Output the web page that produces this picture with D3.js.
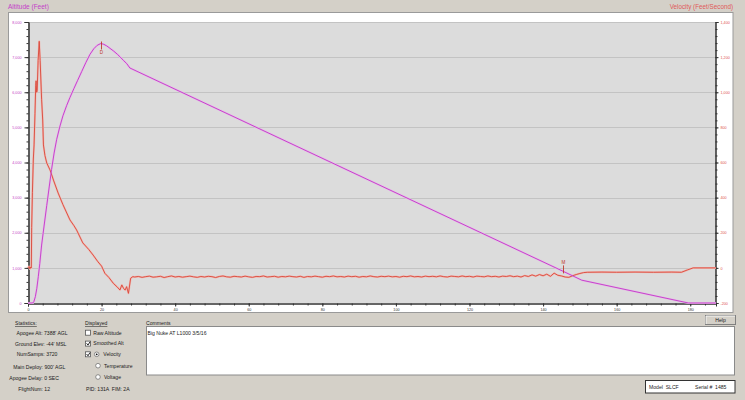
<!DOCTYPE html>
<html><head><meta charset="utf-8">
<script src="https://cdn.jsdelivr.net/npm/d3@7"></script>
<style>html,body{margin:0;padding:0;background:#d4d0c8;overflow:hidden}svg{display:block;font-family:"Liberation Sans",Arial,sans-serif}</style>
</head><body><svg id="c" width="745" height="400"></svg>
<script>
// ---------------- DATA ----------------
const altTime = [0, 1.3, 1.6, 2.0, 2.4, 2.8, 3.2, 3.7, 4.4, 5.1, 5.8, 6.4, 7.1, 7.8, 8.7, 9.5, 10.5, 11.4, 12.5, 13.5, 14.6, 15.7, 16.85, 17.9, 18.8, 19.8, 20.6, 21.4, 22.3, 23.3, 24.3, 25.0, 26.0, 26.8, 27.7, 145.5, 150.5, 179.5, 187];
const altFeet = [0, 0, 40, 180, 420, 750, 1120, 1650, 2220, 2780, 3330, 3800, 4270, 4660, 5040, 5330, 5620, 5850, 6110, 6340, 6590, 6840, 7080, 7240, 7335, 7388, 7365, 7320, 7250, 7170, 7080, 7010, 6900, 6820, 6690, 900, 650, 0, 0];

const velTimeBoost = [0, 0.3, 0.5, 0.7, 0.9, 1.0, 1.2, 1.45, 1.65, 1.9, 2.1, 2.2, 2.35, 2.5, 2.75, 3.05, 3.3, 3.7, 4.0, 4.2, 4.6, 5.1, 6.0, 7.0, 8.2, 9.5, 11.4, 12.5, 13.2, 14.9, 16.5, 17.7, 19.0, 20.0, 20.9, 22.0, 23.2, 24.3, 25.0, 25.5, 26.0, 26.4, 26.8, 27.3, 27.9, 28.5];
const velFpsBoost  = [0, 8, -6, 5, 0, 230, 430, 620, 700, 880, 1040, 1065, 1000, 1010, 1180, 1290, 1180, 960, 842, 700, 640, 597, 557, 495, 426, 360, 273, 240, 216, 142, 105, 73, 35, 10, -31, -55, -88, -110, -126, -97, -118, -126, -107, -145, -59, -50];
// coasting under drogue, one reading per second from t = 29 s to t = 152 s
const velCruiseStart = 29;
const velCruise = [-52, -49, -54, -50, -47, -53, -51, -48, -55, -50, -46, -52, -49, -53, -50, -47, -51, -54, -49, -52,
  -48, -50, -55, -49, -46, -51, -53, -48, -50, -52, -47, -51, -54, -49, -50, -46, -52, -50, -48, -53,
  -49, -51, -47, -50, -52, -48, -54, -49, -51, -47, -50, -53, -48, -50, -46, -51, -49, -52, -47, -50,
  -48, -53, -49, -51, -46, -50, -52, -48, -50, -47, -51, -49, -53, -48, -50, -46, -51, -49, -52, -47,
  -50, -48, -51, -46, -50, -52, -47, -49, -51, -46, -50, -48, -52, -47, -49, -51, -46, -50, -48, -52,
  -47, -49, -45, -50, -47, -52, -44, -49, -40, -47, -38, -45, -36, -48, -30, -42, -46, -52, -54, -45,
  -38, -32, -27, -25];
const velTimeLand = [156, 160, 165, 170, 175, 177.6, 179.2, 180.8, 187];
const velFpsLand  = [-24, -25, -24, -25, -24, -25, -12, 0, 0];

const events = [{label: "D", t: 19.8}, {label: "M", t: 145.5}];

const altTicks = [0, 1000, 2000, 3000, 4000, 5000, 6000, 7000, 8000];
const velTicks = [-200, 0, 200, 400, 600, 800, 1000, 1200, 1400];
const timeTicks = [0, 20, 40, 60, 80, 100, 120, 140, 160, 180];

const statsLines = ["Apogee Alt: 7388' AGL", "Ground Elev: -44' MSL", "NumSamps: 3720", "Main Deploy: 900' AGL", "Apogee Delay: 0 SEC", "FlightNum: 12"];
const displayedItems = [
  {label: "Raw Altitude", check: false, radio: null},
  {label: "Smoothed Alt", check: true, radio: null},
  {label: "Velocity", check: true, radio: true},
  {label: "Temperature", check: null, radio: false},
  {label: "Voltage", check: null, radio: false}];
const commentText = "Big Nuke AT L1000 3/5/16";

// ---------------- DRAW ----------------
const svg = d3.select("#c");
const MAG = "#c43fc8", RED = "#d9473a";
svg.append("rect").attr("width", 745).attr("height", 400).attr("fill", "#d4d0c8");
svg.append("rect").attr("x", 8.5).attr("y", 12.5).attr("width", 724.5).attr("height", 300).attr("fill", "#fff").attr("stroke", "#9a9a9a");

const x = d3.scaleLinear().domain([0, 187]).range([28, 716]);
const yA = d3.scaleLinear().domain([0, 8000]).range([303, 22]);
const yV = d3.scaleLinear().domain([-200, 1400]).range([303, 22]);

svg.append("rect").attr("x", 28).attr("y", 22).attr("width", 688).attr("height", 281).attr("fill", "#dcdcdc");
svg.append("g").selectAll("line").data(altTicks.filter(d => d > 0)).join("line")
  .attr("x1", 28).attr("x2", 716)
  .attr("y1", d => Math.round(yA(d)) + 0.5).attr("y2", d => Math.round(yA(d)) + 0.5)
  .attr("stroke", "#c3c3c3");

function styleAxis(g, col) {
  g.select(".domain").attr("stroke", "#333");
  g.selectAll(".tick line").attr("stroke", "#333");
  g.selectAll("text").attr("fill", col).attr("font-size", 3.7).attr("font-family", "Liberation Sans, Arial, sans-serif");
}
const fmt = d => d3.format(",")(d).replace("\u2212", "-");
svg.append("g").attr("transform", "translate(28.5,0)")
  .call(d3.axisLeft(yA).tickValues(d3.range(0, 8001, 200)).tickSize(2).tickFormat(""))
  .call(g => styleAxis(g, MAG));
svg.append("g").attr("transform", "translate(28.5,0)")
  .call(d3.axisLeft(yA).tickValues(altTicks).tickSize(4).tickPadding(3).tickFormat(fmt))
  .call(g => styleAxis(g, MAG));
svg.append("g").attr("transform", "translate(715.5,0)")
  .call(d3.axisRight(yV).tickValues(d3.range(-200, 1401, 40)).tickSize(2).tickFormat(""))
  .call(g => styleAxis(g, RED));
svg.append("g").attr("transform", "translate(715.5,0)")
  .call(d3.axisRight(yV).tickValues(velTicks).tickSize(3).tickPadding(2).tickFormat(fmt))
  .call(g => styleAxis(g, "#e05050"));
svg.append("g").attr("transform", "translate(0,303.5)")
  .call(d3.axisBottom(x).tickValues(d3.range(0, 187, 4)).tickSize(2).tickFormat(""))
  .call(g => styleAxis(g, "#333"));
svg.append("g").attr("transform", "translate(0,303.5)")
  .call(d3.axisBottom(x).tickValues(timeTicks).tickSize(3).tickPadding(2).tickFormat(fmt))
  .call(g => styleAxis(g, "#333"));

svg.append("text").attr("x", 8).attr("y", 8.6).attr("font-size", 6.5).attr("fill", MAG).text("Altitude (Feet)");
svg.append("text").attr("x", 733).attr("y", 8.6).attr("text-anchor", "end").attr("font-size", 6.3).attr("fill", "#e05a5a").text("Velocity (Feet/Second)");

const altData = altTime.map((t, i) => [t, altFeet[i]]);
const velData = velTimeBoost.map((t, i) => [t, velFpsBoost[i]])
  .concat(velCruise.map((v, i) => [velCruiseStart + i, v]))
  .concat(velTimeLand.map((t, i) => [t, velFpsLand[i]]));
const lineA = d3.line().x(d => x(d[0])).y(d => yA(d[1]));
const lineV = d3.line().x(d => x(d[0])).y(d => yV(d[1]));
const plot = svg.append("g");
plot.append("path").datum(velData).attr("d", lineV).attr("fill", "none").attr("stroke", "#efb9b3").attr("stroke-width", 2.0).attr("stroke-linejoin", "round");
plot.append("path").datum(altData).attr("d", lineA).attr("fill", "none").attr("stroke", "#e6bce8").attr("stroke-width", 2.1).attr("stroke-linejoin", "round");
plot.append("path").datum(velData).attr("d", lineV).attr("fill", "none").attr("stroke", RED).attr("stroke-width", 0.9).attr("stroke-linejoin", "round");
plot.append("path").datum(altData).attr("d", lineA).attr("fill", "none").attr("stroke", MAG).attr("stroke-width", 0.95).attr("stroke-linejoin", "round");

const altAt = t => d3.scaleLinear().domain(altTime).range(altFeet)(t);
events.forEach((e, i) => {
  const px = Math.round(x(e.t)) + 0.5, py = yA(altAt(e.t));
  const dir = i === 0 ? 1 : -1;
  svg.append("line").attr("x1", px).attr("x2", px).attr("y1", py - 2 * dir).attr("y2", py + 6 * dir).attr("stroke", "#c0392b").attr("stroke-width", 0.9);
  svg.append("text").attr("x", px).attr("y", dir > 0 ? py + 11 : py - 7).attr("text-anchor", "middle")
    .attr("font-size", 4.6).attr("fill", "#c0392b").text(e.label);
});

// ---------------- LOWER PANEL ----------------
const T = "#1a1a1a", FS = 5.1;
const stx = [16.5, 15, 16.7, 13.3, 9.3, 18.3];
const sty = [334.5, 345.8, 356.1, 368.5, 380.1, 391.1];
svg.append("text").attr("x", 15).attr("y", 325).attr("font-size", FS).attr("fill", T).attr("text-decoration", "underline").text("Statistics:");
svg.append("g").selectAll("text").data(statsLines).join("text")
  .attr("x", (d, i) => stx[i]).attr("y", (d, i) => sty[i]).attr("font-size", FS).attr("fill", T).text(d => d);

svg.append("text").attr("x", 85).attr("y", 325).attr("font-size", FS).attr("fill", T).attr("text-decoration", "underline").text("Displayed");
const rowY = [332.7, 343.6, 354.3, 365.7, 377];
displayedItems.forEach((d, i) => {
  const cy = rowY[i];
  if (d.check !== null) {
    svg.append("rect").attr("x", 85.5).attr("y", cy - 2.5).attr("width", 5).attr("height", 5).attr("fill", "#fff").attr("stroke", "#555").attr("stroke-width", 0.8);
    if (d.check) svg.append("path").attr("d", `M86.6,${cy - 0.3} L88,${cy + 1.5} L90,${cy - 1.8}`).attr("fill", "none").attr("stroke", "#111").attr("stroke-width", 0.9);
  }
  let tx = 93.3;
  if (d.radio !== null) {
    const rx = i === 2 ? 96.7 : 98;
    svg.append("circle").attr("cx", rx).attr("cy", cy).attr("r", 2.3).attr("fill", "#fff").attr("stroke", "#666").attr("stroke-width", 0.7);
    if (d.radio) svg.append("circle").attr("cx", rx).attr("cy", cy).attr("r", 0.9).attr("fill", "#111");
    tx = i === 2 ? 103.3 : 104;
  }
  svg.append("text").attr("x", tx).attr("y", cy + 1.8).attr("font-size", FS).attr("fill", T).text(d.label);
});
svg.append("text").attr("x", 86).attr("y", 391.1).attr("font-size", FS).attr("fill", T).attr("xml:space", "preserve").text("PID: 131A  FIM: 2A");

svg.append("text").attr("x", 146).attr("y", 324.6).attr("font-size", FS).attr("fill", T).text("Comments");
svg.append("rect").attr("x", 146.5).attr("y", 326.5).attr("width", 588).attr("height", 48.5).attr("fill", "#fff").attr("stroke", "#8a8a8a");
svg.append("text").attr("x", 147.5).attr("y", 334.6).attr("font-size", FS).attr("fill", T).text(commentText);

svg.append("rect").attr("x", 705.5).attr("y", 315.5).attr("width", 30).attr("height", 9).attr("fill", "#d4d0c8").attr("stroke", "#808080");
svg.append("path").attr("d", "M706,324 V316 H735").attr("fill", "none").attr("stroke", "#fff").attr("stroke-width", 0.8);
svg.append("text").attr("x", 720.5).attr("y", 321.8).attr("text-anchor", "middle").attr("font-size", FS).attr("fill", T).text("Help");

svg.append("rect").attr("x", 645.5).attr("y", 380.5).attr("width", 89.5).attr("height", 12.5).attr("fill", "#fff").attr("stroke", "#333");
svg.append("text").attr("x", 649).attr("y", 389).attr("font-size", FS).attr("fill", T).attr("xml:space", "preserve").text("Model  SLCF");
svg.append("text").attr("x", 695).attr("y", 389).attr("font-size", FS).attr("fill", T).attr("xml:space", "preserve").text("Serial #  1485");
</script></body></html>
